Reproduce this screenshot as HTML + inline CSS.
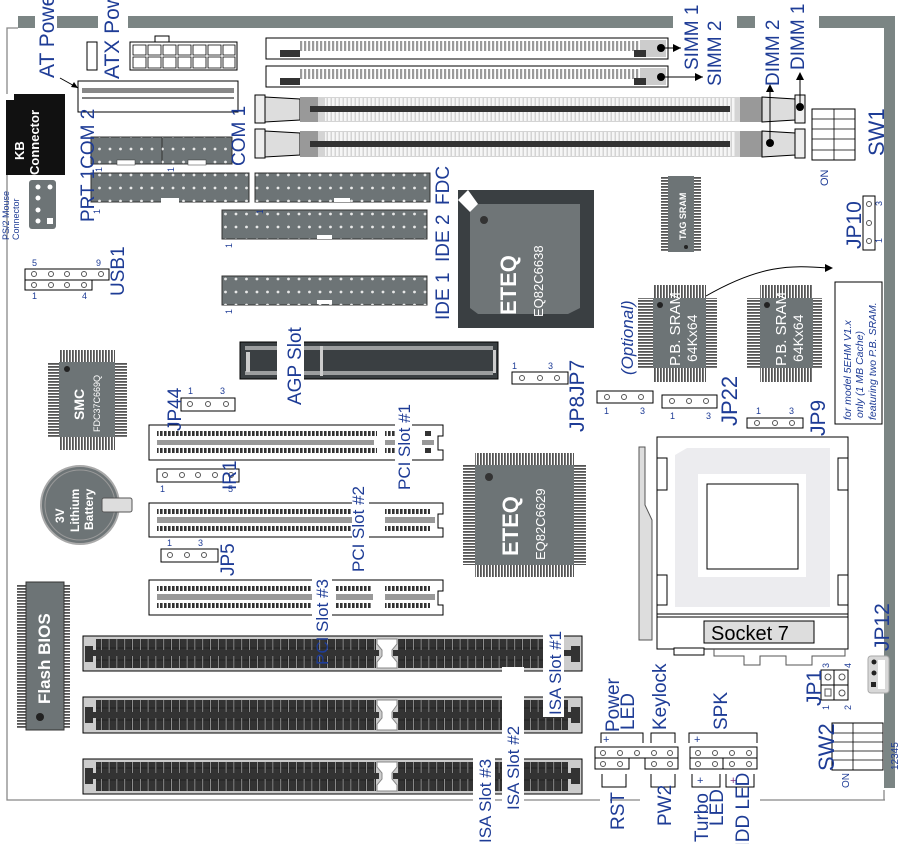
<!DOCTYPE html>
<html><head><meta charset="utf-8"><style>
html,body{margin:0;padding:0;background:#fff;width:905px;height:844px;overflow:hidden}
svg{display:block;overflow:hidden}
text{font-family:"Liberation Sans",sans-serif}
.l{fill:#1e3c96;font-size:19px}
.s{fill:#1e3c96;font-size:9px}
.w{fill:#fff;font-weight:bold}
</style></head><body>
<svg width="905" height="844" viewBox="0 0 905 844" xmlns="http://www.w3.org/2000/svg">
<defs>
<pattern id="hd" x="0" y="0" width="10.5" height="13" patternUnits="userSpaceOnUse"><circle cx="5" cy="6" r="1.4" fill="#e8e8e8"/></pattern>
<pattern id="simm" x="0" y="0" width="4" height="10" patternUnits="userSpaceOnUse"><rect width="2.2" height="10" fill="#9a9a9a"/></pattern>
<pattern id="dimm" x="0" y="0" width="4" height="4" patternUnits="userSpaceOnUse"><rect width="2.5" height="4" fill="#fff"/></pattern>
<pattern id="pci" x="0" y="0" width="4" height="6" patternUnits="userSpaceOnUse"><rect width="2.6" height="6" fill="#333"/></pattern>
<pattern id="isa" x="0" y="0" width="7.8" height="12" patternUnits="userSpaceOnUse"><rect x="0.5" y="0" width="6.6" height="12" fill="#333" stroke="#111" stroke-width="0.5"/></pattern>
<pattern id="pinv" x="0" y="0" width="3" height="8" patternUnits="userSpaceOnUse"><rect width="1.8" height="8" fill="#555"/></pattern>
<pattern id="pinh" x="0" y="0" width="8" height="3" patternUnits="userSpaceOnUse"><rect width="8" height="1.8" fill="#555"/></pattern>
</defs>

<g fill="#7b8584">
<rect x="18" y="16" width="17" height="12"/><rect x="57" y="16" width="41" height="12"/>
<rect x="128" y="16" width="545" height="12"/><rect x="737" y="16" width="18" height="12"/>
<rect x="819" y="16" width="76" height="12"/><rect x="884" y="16" width="11" height="772"/>
</g>
<polyline points="18,28 7,28 7,800 600,800" fill="none" stroke="#888" stroke-width="1.3"/>
<line x1="610" y1="800" x2="640" y2="800" stroke="#888" stroke-width="1.3"/>
<line x1="760" y1="800" x2="885" y2="800" stroke="#888" stroke-width="1.3"/>
<line x1="884" y1="790" x2="884" y2="800" stroke="#888" stroke-width="1.3"/>

<rect x="87" y="42" width="10" height="28" fill="#fff" stroke="#000"/>
<rect x="130" y="42" width="107" height="28" fill="#fff" stroke="#000"/>
<rect x="155" y="36" width="14" height="6" fill="#fff" stroke="#000"/>
<g fill="none" stroke="#000" stroke-width="0.8">
<path d="M133 45h13v10h-13zM148 45h13v10h-13zM163 45h13v10h-13zM178 45h13v10h-13zM193 45h13v10h-13zM208 45h13v10h-13zM223 45h12v10h-12z"/>
<path d="M133 57h13v11h-13zM148 57h13v11h-13zM163 57h13v11h-13zM178 57h13v11h-13zM193 57h13v11h-13zM208 57h13v11h-13zM223 57h12v11h-12z"/>
</g>
<rect x="78" y="81" width="160" height="31" fill="#fff" stroke="#000"/>
<rect x="82" y="88" width="152" height="5" fill="#888"/>
<path d="M82 98 h152" stroke="#000"/>
<path d="M60 78 L78 88" stroke="#000"/><path d="M78 88 l-7 -1 l3 -5z"/>
<rect x="6" y="94" width="59" height="81" fill="#111"/>
<rect x="6" y="94" width="8" height="6" fill="#fff"/>
<text transform="translate(24,160) rotate(-90)" class="w" font-size="13">KB</text>
<text transform="translate(39,175) rotate(-90)" class="w" font-size="13">Connector</text>
<rect x="29" y="180" width="27" height="49" rx="3" fill="#6d7476"/>
<g fill="#fff"><circle cx="38" cy="187" r="2.5"/><circle cx="50" cy="187" r="2.5"/><circle cx="38" cy="198" r="2.5"/><circle cx="38" cy="210" r="2.5"/><circle cx="38" cy="221" r="2.5"/><rect x="47" y="218" width="6" height="6"/></g>
<text transform="translate(9,240) rotate(-90)" fill="#1e3c96" font-size="9">PS/2 Mouse</text>
<text transform="translate(19,240) rotate(-90)" fill="#1e3c96" font-size="9">Connector</text>

<rect x="91" y="137" width="71" height="27" fill="#6d7476" stroke="#333"/><rect x="91" y="137" width="71" height="27" fill="url(#hd)"/>
<rect x="162" y="137" width="70" height="27" fill="#6d7476" stroke="#333"/><rect x="162" y="137" width="70" height="27" fill="url(#hd)"/>
<rect x="117" y="160" width="18" height="5" fill="#fff" stroke="#333" stroke-width=".5"/><rect x="188" y="160" width="18" height="5" fill="#fff" stroke="#333" stroke-width=".5"/>
<rect x="91" y="173" width="158" height="29" fill="#6d7476" stroke="#333"/><rect x="91" y="173" width="158" height="29" fill="url(#hd)"/>
<rect x="161" y="198" width="18" height="5" fill="#fff"/>
<rect x="255" y="173" width="175" height="29" fill="#6d7476" stroke="#333"/><rect x="255" y="173" width="175" height="29" fill="url(#hd)"/>
<rect x="334" y="198" width="16" height="4" fill="#fff"/>
<rect x="222" y="210" width="205" height="29" fill="#6d7476" stroke="#333"/><rect x="222" y="210" width="205" height="29" fill="url(#hd)"/>
<rect x="317" y="235" width="15" height="4" fill="#fff"/>
<rect x="222" y="276" width="205" height="29" fill="#6d7476" stroke="#333"/><rect x="222" y="276" width="205" height="29" fill="url(#hd)"/>
<rect x="317" y="300" width="15" height="4" fill="#fff"/>
<g class="s" font-size="10" fill="#1e3c96">
<text transform="translate(102,172) rotate(-90)">1</text><text transform="translate(174,172) rotate(-90)">1</text>
<text transform="translate(100,214) rotate(-90)">1</text><text transform="translate(263,214) rotate(-90)">1</text>
<text transform="translate(232,248) rotate(-90)">1</text><text transform="translate(232,314) rotate(-90)">1</text>
</g>

<rect x="25" y="269" width="84" height="11" fill="#fff" stroke="#000"/>
<rect x="25" y="280" width="67" height="10" fill="#fff" stroke="#000"/>
<g fill="none" stroke="#555"><circle cx="34" cy="274" r="2.5"/><circle cx="51" cy="274" r="2.5"/><circle cx="67" cy="274" r="2.5"/><circle cx="84" cy="274" r="2.5"/><circle cx="101" cy="274" r="2.5"/>
<circle cx="34" cy="285" r="2.5"/><circle cx="51" cy="285" r="2.5"/><circle cx="67" cy="285" r="2.5"/><circle cx="84" cy="285" r="2.5"/></g>
<g class="s"><text x="32" y="266">5</text><text x="96" y="266">9</text><text x="32" y="299">1</text><text x="82" y="299">4</text></g>

<rect x="266" y="38" width="402" height="21" fill="#fff" stroke="#000"/>
<rect x="300" y="41" width="350" height="10" fill="url(#simm)"/><rect x="280" y="50" width="20" height="7" fill="#333"/>
<rect x="266" y="66" width="402" height="21" fill="#fff" stroke="#000"/>
<rect x="300" y="69" width="350" height="10" fill="url(#simm)"/><rect x="280" y="78" width="20" height="7" fill="#333"/>
<rect x="640" y="40" width="26" height="17" fill="#ccc"/><rect x="640" y="68" width="26" height="17" fill="#ccc"/>
<rect x="634" y="50" width="12" height="7" fill="#333"/><rect x="634" y="78" width="12" height="7" fill="#333"/>
<circle cx="661" cy="48" r="4"/><circle cx="661" cy="77" r="4"/>
<path d="M661 48 H681" stroke="#000"/><path d="M681 48 l-8 -4 v8z"/>
<path d="M661 77 H703" stroke="#000"/><path d="M703 77 l-8 -4 v8z"/>

<g>
<rect x="255" y="95" width="10" height="28" fill="#eee" stroke="#000"/><path d="M265 97 L300 99 V120 L265 122Z" fill="#ddd" stroke="#000"/>
<rect x="300" y="97" width="18" height="25" fill="#999"/>
<rect x="318" y="97" width="422" height="25" fill="#d4d4d4"/><rect x="325" y="98" width="410" height="23" fill="url(#dimm)" opacity=".8"/>
<rect x="310" y="106" width="420" height="6" fill="#333"/>
<rect x="740" y="97" width="22" height="25" fill="#999"/><path d="M762 97 L795 99 V120 L762 122Z" fill="#ddd" stroke="#000"/>
<rect x="795" y="95" width="10" height="28" fill="#eee" stroke="#000"/>
<rect x="255" y="129" width="10" height="29" fill="#eee" stroke="#000"/><path d="M265 131 L300 133 V155 L265 157Z" fill="#ddd" stroke="#000"/>
<rect x="300" y="131" width="18" height="26" fill="#999"/>
<rect x="318" y="131" width="422" height="26" fill="#d4d4d4"/><rect x="325" y="132" width="410" height="24" fill="url(#dimm)" opacity=".8"/>
<rect x="310" y="141" width="420" height="6" fill="#333"/>
<rect x="740" y="131" width="22" height="26" fill="#999"/><path d="M762 131 L795 133 V155 L762 157Z" fill="#ddd" stroke="#000"/>
<rect x="795" y="129" width="10" height="29" fill="#eee" stroke="#000"/>
</g>
<circle cx="770" cy="143" r="4"/><circle cx="800" cy="107" r="4"/>
<path d="M770 143 V88" stroke="#000"/><path d="M770 84 l-4 8 h8z"/>
<path d="M800 107 V76" stroke="#000"/><path d="M800 72 l-4 8 h8z"/>
<rect x="812" y="109" width="43" height="51" fill="#fff" stroke="#000"/>
<path d="M834 109V160M812 119h43M812 129h43M812 139h43M812 150h43" stroke="#000" fill="none" stroke-width=".8"/>
<text transform="translate(828,186) rotate(-90)" fill="#1e3c96" font-size="11">ON</text>

<rect x="458" y="190" width="136" height="138" fill="#3a3f42"/>
<path d="M478 204 H580 V308 L568 314 H478 L470 308 V212Z" fill="#6f7577"/>
<path d="M458 200 L468 190 L478 204 L470 212Z" fill="#fff"/>
<circle cx="484" cy="220" r="4" fill="#333"/>
<text transform="translate(516,315) rotate(-90)" class="w" font-size="22">ETEQ</text>
<text transform="translate(543,317) rotate(-90)" fill="#fff" font-size="13">EQ82C6638</text>

<rect x="661" y="176" width="40" height="76" fill="url(#pinh)"/>
<rect x="668" y="176" width="26" height="76" fill="#6d7476"/>
<text transform="translate(686,240) rotate(-90)" class="w" font-size="9">TAG SRAM</text>
<circle cx="686" cy="247" r="2" fill="#222"/>
<rect x="863" y="196" width="12" height="54" fill="#fff" stroke="#000"/>
<g fill="none" stroke="#555"><circle cx="869" cy="204" r="2.5"/><circle cx="869" cy="223" r="2.5"/><circle cx="869" cy="241" r="2.5"/></g>
<text class="s" x="882" y="206" transform="rotate(-90 882 206)">3</text><text class="s" x="882" y="243" transform="rotate(-90 882 243)">1</text>

<path d="M706 296 C760 265 790 265 828 268" fill="none" stroke="#000"/><path d="M833 268 l-8 -4 v8z"/>
<rect x="835" y="282" width="47" height="142" fill="#fff" stroke="#000"/>
<g fill="#1e3c96" font-size="10.5" font-style="italic">
<text transform="translate(851,420) rotate(-90)">for model 5EHM V1.x</text>
<text transform="translate(863,418) rotate(-90)">only (1 MB Cache)</text>
<text transform="translate(876,420) rotate(-90)">featuring two P.B. SRAM.</text>
</g>

<g>
<rect x="638" y="298" width="79" height="70" fill="url(#pinh)"/><rect x="653" y="285" width="53" height="97" fill="url(#pinv)"/>
<rect x="653" y="298" width="53" height="70" fill="#6d7476"/><circle cx="660" cy="305" r="3" fill="#222"/>
<text transform="translate(680,366) rotate(-90)" fill="#fff" font-size="15">P.B. SRAM</text>
<text transform="translate(697,362) rotate(-90)" fill="#fff" font-size="14">64Kx64</text>
<rect x="747" y="298" width="75" height="70" fill="url(#pinh)"/><rect x="760" y="285" width="53" height="97" fill="url(#pinv)"/>
<rect x="760" y="298" width="53" height="70" fill="#6d7476"/><circle cx="767" cy="305" r="3" fill="#222"/>
<text transform="translate(786,366) rotate(-90)" fill="#fff" font-size="15">P.B. SRAM</text>
<text transform="translate(803,362) rotate(-90)" fill="#fff" font-size="14">64Kx64</text>
</g>
<text transform="translate(633,375) rotate(-90)" fill="#1e3c96" font-size="17" font-style="italic">(Optional)</text>

<rect x="240" y="342" width="258" height="37" fill="#3a3f42" stroke="#000"/>
<rect x="245" y="346" width="248" height="4" fill="#ddd" opacity=".6"/><rect x="245" y="371" width="248" height="4" fill="#ddd" opacity=".6"/>
<rect x="250" y="352" width="240" height="17" fill="#3a3f42"/>
<rect x="246" y="352" width="4" height="20" fill="#ccc"/>
<rect x="320" y="346" width="3" height="30" fill="#ccc"/><rect x="493" y="350" width="3" height="23" fill="#ccc"/>
<rect x="277" y="339" width="27" height="45" fill="#fff"/>

<g fill="#fff" stroke="#000">
<rect x="512" y="372" width="56" height="12"/><rect x="597" y="391" width="56" height="12"/>
<rect x="662" y="395" width="55" height="13"/><rect x="747" y="418" width="56" height="10"/>
<rect x="181" y="398" width="54" height="13"/><rect x="157" y="469" width="82" height="13"/>
<rect x="161" y="549" width="57" height="13"/>
</g>
<g fill="none" stroke="#555">
<circle cx="522" cy="378" r="2.5"/><circle cx="540" cy="378" r="2.5"/><circle cx="557" cy="378" r="2.5"/>
<circle cx="607" cy="397" r="2.5"/><circle cx="624" cy="397" r="2.5"/><circle cx="641" cy="397" r="2.5"/>
<circle cx="672" cy="401" r="2.5"/><circle cx="689" cy="401" r="2.5"/><circle cx="706" cy="401" r="2.5"/>
<circle cx="757" cy="423" r="2.5"/><circle cx="775" cy="423" r="2.5"/><circle cx="792" cy="423" r="2.5"/>
<circle cx="190" cy="404" r="2.5"/><circle cx="208" cy="404" r="2.5"/><circle cx="226" cy="404" r="2.5"/>
<circle cx="165" cy="475" r="2.5"/><circle cx="182" cy="475" r="2.5"/><circle cx="198" cy="475" r="2.5"/><circle cx="215" cy="475" r="2.5"/><circle cx="231" cy="475" r="2.5"/>
<circle cx="170" cy="555" r="2.5"/><circle cx="187" cy="555" r="2.5"/><circle cx="204" cy="555" r="2.5"/>
</g>
<g class="s">
<text x="512" y="369">1</text><text x="548" y="369">3</text><text x="756" y="414">1</text><text x="789" y="414">3</text>
<text x="188" y="394">1</text><text x="220" y="394">3</text><text x="167" y="546">1</text><text x="198" y="546">3</text>
<text x="604" y="414">1</text><text x="640" y="414">3</text><text x="670" y="419">1</text><text x="706" y="419">3</text>
<text x="160" y="492">1</text><text x="228" y="492">5</text>
</g>

<rect x="48" y="362" width="79" height="75" fill="url(#pinh)"/><rect x="59" y="350" width="56" height="100" fill="url(#pinv)"/>
<rect x="59" y="362" width="56" height="75" fill="#6d7476"/><circle cx="67" cy="369" r="3" fill="#222"/>
<text transform="translate(84,420) rotate(-90)" class="w" font-size="14">SMC</text>
<text transform="translate(100,432) rotate(-90)" fill="#fff" font-size="9">FDC37C669Q</text>

<g>
<path d="M149 425 H443 V436 H438 V450 H443 V460 H149Z" fill="#fff" stroke="#000"/>
<rect x="157" y="431" width="220" height="5" fill="url(#pci)"/><rect x="157" y="448" width="220" height="5" fill="url(#pci)"/>
<rect x="157" y="440" width="217" height="5" fill="#999"/><rect x="385" y="440" width="20" height="5" fill="#999"/><rect x="422" y="440" width="12" height="5" fill="#999"/>
<rect x="385" y="431" width="20" height="5" fill="url(#pci)"/><rect x="385" y="448" width="20" height="5" fill="url(#pci)"/>
<rect x="425" y="431" width="6" height="5" fill="#333"/><rect x="425" y="448" width="6" height="5" fill="#333"/>
<path d="M149 503 H443 V514 H438 V528 H443 V537 H149Z" fill="#fff" stroke="#000"/>
<rect x="157" y="509" width="195" height="5" fill="url(#pci)"/><rect x="157" y="526" width="195" height="5" fill="url(#pci)"/>
<rect x="157" y="517" width="195" height="6" fill="#999"/><rect x="385" y="517" width="50" height="6" fill="#999"/>
<rect x="385" y="509" width="45" height="5" fill="url(#pci)"/><rect x="385" y="526" width="45" height="5" fill="url(#pci)"/>
<path d="M149 580 H443 V591 H438 V605 H443 V615 H149Z" fill="#fff" stroke="#000"/>
<rect x="157" y="586" width="155" height="5" fill="url(#pci)"/><rect x="157" y="603" width="155" height="5" fill="url(#pci)"/>
<rect x="157" y="594" width="155" height="6" fill="#999"/><rect x="336" y="594" width="37" height="6" fill="#999"/><rect x="385" y="594" width="50" height="6" fill="#999"/>
<rect x="336" y="586" width="35" height="5" fill="url(#pci)"/><rect x="336" y="603" width="35" height="5" fill="url(#pci)"/>
<rect x="385" y="586" width="45" height="5" fill="url(#pci)"/><rect x="385" y="603" width="45" height="5" fill="url(#pci)"/>
</g>
<rect x="395" y="422" width="17" height="70" fill="#fff"/><rect x="352" y="490" width="17" height="85" fill="#fff"/>
<rect x="312" y="575" width="20" height="90" fill="#fff"/>

<circle cx="80" cy="505" r="39" fill="#6d7476" stroke="#aaa" stroke-width="2"/>
<circle cx="80" cy="505" r="35" fill="none" stroke="#999"/>
<rect x="102" y="498" width="30" height="14" rx="2" fill="#ddd" stroke="#555"/>
<text transform="translate(64,523) rotate(-90)" class="w" font-size="12">3V</text>
<text transform="translate(79,532) rotate(-90)" class="w" font-size="12">Lithium</text>
<text transform="translate(93,530) rotate(-90)" class="w" font-size="12">Battery</text>

<rect x="463" y="465" width="123" height="100" fill="url(#pinh)"/><rect x="475" y="453" width="99" height="124" fill="url(#pinv)"/>
<rect x="475" y="465" width="99" height="100" fill="#6d7476"/><circle cx="489" cy="477" r="4" fill="#333"/>
<text transform="translate(518,556) rotate(-90)" class="w" font-size="22">ETEQ</text>
<text transform="translate(545,560) rotate(-90)" fill="#fff" font-size="13">EQ82C6629</text>

<rect x="17" y="584" width="53" height="144" fill="url(#pinh)"/>
<rect x="26" y="582" width="38" height="148" fill="#6d7476" stroke="#333"/>
<circle cx="40" cy="717" r="4" fill="#222"/>
<text transform="translate(50,704) rotate(-90)" class="w" font-size="17">Flash BIOS</text>

<g>
<rect x="83" y="636" width="499" height="35" fill="#ccc" stroke="#000"/>
<rect x="96" y="639" width="280" height="12" fill="url(#isa)"/><rect x="96" y="656" width="280" height="12" fill="url(#isa)"/>
<rect x="398" y="639" width="145" height="12" fill="url(#isa)"/><rect x="398" y="656" width="145" height="12" fill="url(#isa)"/>
<rect x="86" y="650" width="293" height="6" fill="#333"/><rect x="393" y="650" width="185" height="6" fill="#333"/>
<rect x="85" y="646" width="8" height="16" fill="#333"/><rect x="571" y="646" width="9" height="16" fill="#333"/>
<path d="M377 639 h20 v5 l-5 6 v6 l5 6 v6 h-20 v-6 l5 -6 v-6 l-5 -6z" fill="#fff" stroke="#888"/>
<rect x="83" y="697" width="499" height="36" fill="#ccc" stroke="#000"/>
<rect x="96" y="700" width="280" height="12" fill="url(#isa)"/><rect x="96" y="718" width="280" height="12" fill="url(#isa)"/>
<rect x="398" y="700" width="170" height="12" fill="url(#isa)"/><rect x="398" y="718" width="170" height="12" fill="url(#isa)"/>
<rect x="86" y="712" width="293" height="6" fill="#333"/><rect x="393" y="712" width="185" height="6" fill="#333"/>
<rect x="85" y="707" width="8" height="16" fill="#333"/><rect x="571" y="707" width="9" height="16" fill="#333"/>
<path d="M377 700 h20 v5 l-5 7 v6 l5 6 v6 h-20 v-6 l5 -6 v-6 l-5 -7z" fill="#fff" stroke="#888"/>
<rect x="83" y="759" width="499" height="35" fill="#ccc" stroke="#000"/>
<rect x="96" y="762" width="280" height="12" fill="url(#isa)"/><rect x="96" y="779" width="280" height="12" fill="url(#isa)"/>
<rect x="398" y="762" width="170" height="12" fill="url(#isa)"/><rect x="398" y="779" width="170" height="12" fill="url(#isa)"/>
<rect x="86" y="773" width="293" height="6" fill="#333"/><rect x="393" y="773" width="185" height="6" fill="#333"/>
<rect x="85" y="768" width="8" height="16" fill="#333"/><rect x="571" y="768" width="9" height="16" fill="#333"/>
<path d="M377 762 h20 v5 l-5 6 v6 l5 6 v6 h-20 v-6 l5 -6 v-6 l-5 -6z" fill="#fff" stroke="#888"/>
</g>
<rect x="543" y="605" width="21" height="112" fill="#fff"/>
<rect x="502" y="667" width="22" height="145" fill="#fff"/>
<rect x="473" y="740" width="22" height="104" fill="#fff"/>

<path d="M639 447 L645 447 L645 505 L652 520 L652 640 L639 640Z" fill="#ddd" stroke="#555"/>
<rect x="657" y="437" width="191" height="212" fill="#fff" stroke="#000"/>
<path d="M675 455 L687 448 H830 V607 H675Z" fill="#ececef"/>
<rect x="698" y="474" width="108" height="103" fill="#fff"/>
<rect x="707" y="484" width="91" height="85" fill="#fff" stroke="#000"/>
<rect x="657" y="458" width="10" height="32" fill="#fff" stroke="#000"/><rect x="657" y="575" width="10" height="30" fill="#fff" stroke="#000"/>
<rect x="838" y="458" width="10" height="32" fill="#fff" stroke="#000"/><rect x="838" y="575" width="10" height="30" fill="#fff" stroke="#000"/>
<path d="M657 614 H848 M657 617 H848" stroke="#000"/>
<rect x="704" y="621" width="110" height="22" fill="#ddd" stroke="#000"/>
<text x="711" y="640" font-family="Liberation Serif,serif" font-size="20" fill="#000">Socket 7</text>
<rect x="674" y="648" width="30" height="7" fill="#fff" stroke="#000"/>
<path d="M714 649 V656 H744 V665 H760 V656 H786 V665 H812 V656 H845 V649" fill="none" stroke="#555"/>

<rect x="821" y="670" width="27" height="30" fill="#fff" stroke="#000"/><path d="M821 685 H848 M834 670 V700" stroke="#000"/>
<g fill="none" stroke="#555"><circle cx="828" cy="677" r="3"/><circle cx="842" cy="677" r="3"/><circle cx="842" cy="693" r="3"/><rect x="825" y="689" width="6" height="7"/></g>
<g class="s"><text x="829" y="668" transform="rotate(-90 829 668)">3</text><text x="851" y="668" transform="rotate(-90 851 668)">4</text>
<text x="829" y="710" transform="rotate(-90 829 710)">1</text><text x="851" y="710" transform="rotate(-90 851 710)">2</text></g>
<rect x="868" y="656" width="21" height="37" rx="3" fill="#d8d8d8" stroke="#aaa"/><rect x="878" y="660" width="7" height="29" fill="#fff"/>
<circle cx="874" cy="662" r="2.5" fill="#222"/><circle cx="874" cy="673" r="2.5" fill="#222"/><rect x="871" y="682" width="5" height="5" fill="#222"/>
<rect x="832" y="723" width="51" height="47" fill="#fff" stroke="#000"/>
<path d="M853 723V770M832 733h51M832 742h51M832 751h51M832 760h51" stroke="#000" fill="none" stroke-width=".8"/>
<text transform="translate(898,770) rotate(-90)" fill="#1e3c96" font-size="10">12345</text>
<text transform="translate(849,788) rotate(-90)" fill="#1e3c96" font-size="10">ON</text>

<g fill="#fff" stroke="#000">
<rect x="595" y="747" width="83" height="11"/><rect x="595" y="758" width="34" height="11"/><rect x="645" y="758" width="33" height="11"/>
<rect x="690" y="747" width="67" height="11"/><rect x="690" y="758" width="33" height="11"/><rect x="723" y="758" width="34" height="11"/>
</g>
<g fill="none" stroke="#555">
<circle cx="603" cy="753" r="2.5"/><circle cx="620" cy="753" r="2.5"/><circle cx="637" cy="753" r="2.5"/><circle cx="654" cy="753" r="2.5"/><circle cx="670" cy="753" r="2.5"/>
<circle cx="603" cy="764" r="2.5"/><circle cx="620" cy="764" r="2.5"/><circle cx="654" cy="764" r="2.5"/><circle cx="670" cy="764" r="2.5"/>
<circle cx="698" cy="753" r="2.5"/><circle cx="715" cy="753" r="2.5"/><circle cx="732" cy="753" r="2.5"/><circle cx="749" cy="753" r="2.5"/>
<circle cx="698" cy="764" r="2.5"/><circle cx="715" cy="764" r="2.5"/><circle cx="732" cy="764" r="2.5"/><circle cx="749" cy="764" r="2.5"/>
</g>
<g fill="none" stroke="#000">
<path d="M601 743 V733 H643 V743"/><path d="M651 743 V733 H675 V743"/><path d="M689 743 V733 H757 V743"/>
<path d="M602 774 V787 H626 V774"/><path d="M651 774 V787 H675 V774"/><path d="M692 774 V787 H720 V774"/><path d="M726 774 V787 H754 V774"/>
</g>
<g fill="#1e3c96" font-size="11"><text x="603" y="743">+</text><text x="694" y="743">+</text>
<text x="697" y="784">+</text><text x="730" y="784" fill="#803080">+</text></g>
<g class="l" font-size="14">
<text transform="translate(619,732) rotate(-90)">Power</text><text transform="translate(634,730) rotate(-90)">LED</text>
<text transform="translate(666,730) rotate(-90)">Keylock</text><text transform="translate(727,730) rotate(-90)">SPK</text>
<text transform="translate(624,830) rotate(-90)">RST</text><text transform="translate(671,826) rotate(-90)">PW2</text>
<text transform="translate(708,842) rotate(-90)">Turbo</text><text transform="translate(723,826) rotate(-90)">LED</text>
<text transform="translate(749,856) rotate(-90)">HDD LED</text>
</g>

<g class="l">
<text transform="translate(54,78) rotate(-90)" font-size="21">AT Power</text>
<text transform="translate(119,79) rotate(-90)" font-size="21">ATX Power</text>
<text transform="translate(94,222) rotate(-90)">PRT 1COM 2</text>
<text transform="translate(245,166) rotate(-90)">COM 1</text>
<text transform="translate(449,205) rotate(-90)">FDC</text>
<text transform="translate(449,262) rotate(-90)">IDE 2</text>
<text transform="translate(449,320) rotate(-90)">IDE 1</text>
<text transform="translate(124,296) rotate(-90)">USB1</text>
<text transform="translate(698,70) rotate(-90)">SIMM 1</text>
<text transform="translate(721,86) rotate(-90)">SIMM 2</text>
<text transform="translate(779,86) rotate(-90)">DIMM 2</text>
<text transform="translate(804,70) rotate(-90)">DIMM 1</text>
<text transform="translate(884,156) rotate(-90)" font-size="22">SW1</text>
<text transform="translate(861,249) rotate(-90)" font-size="21">JP10</text>
<text transform="translate(301,405) rotate(-90)">AGP Slot</text>
<text transform="translate(584,396) rotate(-90)" font-size="21">JP7</text>
<text transform="translate(584,432) rotate(-90)" font-size="21">JP8</text>
<text transform="translate(737,426) rotate(-90)" font-size="22">JP22</text>
<text transform="translate(825,436) rotate(-90)" font-size="21">JP9</text>
<text transform="translate(181,431) rotate(-90)">JP44</text>
<text transform="translate(410,490) rotate(-90)" font-size="17">PCI Slot #1</text>
<text transform="translate(236,490) rotate(-90)">IR1</text>
<text transform="translate(364,572) rotate(-90)" font-size="17">PCI Slot #2</text>
<text transform="translate(234,576) rotate(-90)">JP5</text>
<text transform="translate(328,665) rotate(-90)" font-size="17">PCI Slot #3</text>
<text transform="translate(561,715) rotate(-90)" font-size="17">ISA Slot #1</text>
<text transform="translate(519,810) rotate(-90)" font-size="17">ISA Slot #2</text>
<text transform="translate(491,843) rotate(-90)" font-size="17">ISA Slot #3</text>
<text transform="translate(889,651) rotate(-90)" font-size="21">JP12</text>
<text transform="translate(821,706) rotate(-90)" font-size="21">JP1</text>
<text transform="translate(834,771) rotate(-90)" font-size="22">SW2</text>
</g>
</svg>
</body></html>
